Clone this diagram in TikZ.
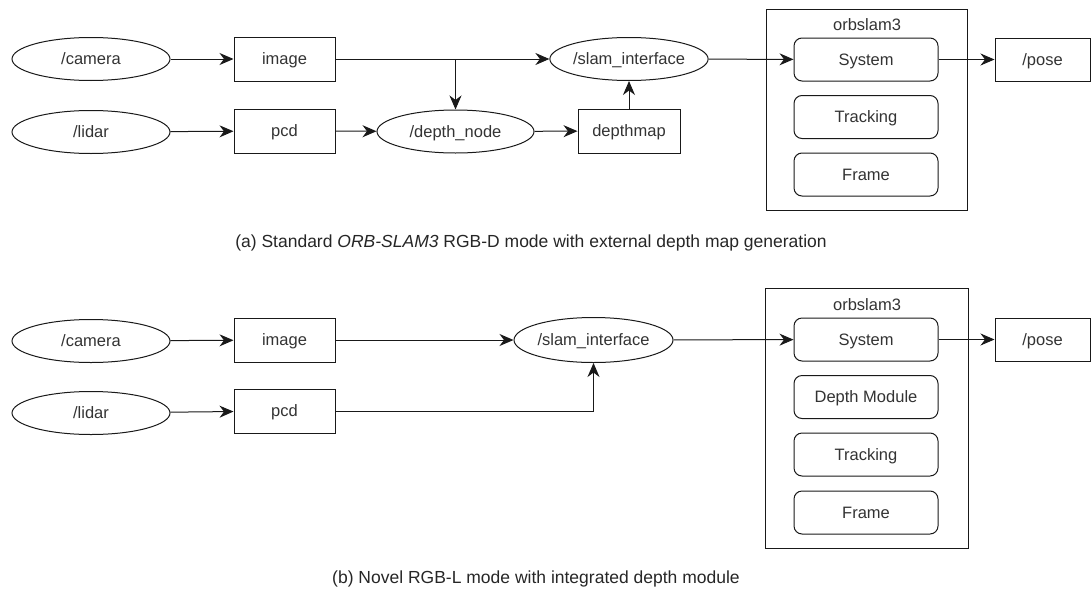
\documentclass[tikz,border=0pt]{standalone}
\usepackage{fontspec}
\setmainfont{Liberation Sans}
\usetikzlibrary{shapes.geometric,arrows.meta}
\begin{document}
\begin{tikzpicture}[x=1pt,y=-1pt,
  every node/.style={font=\fontsize{16.5}{19}\selectfont, text=black!80, text height=14.9pt, text depth=3.5pt},
  topic/.style={draw=black!90, line width=1pt, ellipse, minimum width=158pt, minimum height=43pt, inner sep=0pt},
  msgbox/.style={draw=black!90, line width=1pt, minimum width=101pt, minimum height=44pt, inner sep=0pt},
  module/.style={draw=black!90, line width=1pt, rounded corners=8pt, minimum width=144pt, minimum height=43pt, inner sep=0pt},
  container/.style={draw=black!90, line width=1pt, inner sep=0pt, text height=, text depth=},
  flow/.style={draw=black!90, line width=1pt, -{Stealth[length=14pt,width=12pt,inset=4.5pt]}},
  caption/.style={font=\fontsize{17.5}{21}\selectfont, text=black!85, text height=15.8pt, text depth=3.7pt}]
\useasboundingbox (0,0) rectangle (1091,589);

% ---------- (a) RGB-D pipeline ----------
\node[container, minimum width=201pt, minimum height=201pt] (orbA) at (866.5,109.5) {};
\node (orbAlbl) at (867,25) {orbslam3};
\node[module] (sysA) at (866,59.5) {System};
\node[module] (trkA) at (866,117) {Tracking};
\node[module] (frmA) at (866,174.5) {Frame};

\node[topic] (camA) at (91,59) {/camera};
\node[topic] (lidA) at (91,132) {/lidar};
\node[msgbox] (imgA) at (284.5,59) {image};
\node[msgbox] (pcdA) at (284.5,131) {pcd};
\node[topic] (slamA) at (629,59) {/slam\_interface};
\node[topic, minimum width=157pt] (depA) at (455.5,131.5) {/depth\_node};
\node[msgbox, minimum width=102pt] (dmapA) at (629,131) {depthmap};
\node[msgbox, minimum width=95pt, minimum height=43pt] (poseA) at (1042.5,59.5) {/pose};
\coordinate (brA) at (depA.north |- imgA.east);

\draw[flow] (camA) -- (imgA);
\draw[flow] (imgA) -- (slamA);
\draw[flow] (brA) -- (depA);
\draw[flow] (lidA) -- (pcdA);
\draw[flow] (pcdA) -- (depA);
\draw[flow] (depA) -- (dmapA);
\draw[flow] (dmapA) -- (slamA);
\draw[flow] (slamA) -- (sysA);
\draw[flow] (sysA) -- (poseA);

\node[caption] (capA) at (531,241) {(a) Standard \textit{ORB-SLAM3} RGB-D mode with external depth map generation};

% ---------- (b) RGB-L pipeline ----------
\node[container, minimum width=203pt, minimum height=260pt] (orbB) at (866.5,418) {};
\node (orbBlbl) at (867,305) {orbslam3};
\node[module] (sysB) at (866,339.5) {System};
\node[module] (depB) at (866,397) {Depth Module};
\node[module] (trkB) at (866,454.5) {Tracking};
\node[module] (frmB) at (866,512.5) {Frame};

\node[topic] (camB) at (91,341) {/camera};
\node[topic] (lidB) at (91,413) {/lidar};
\node[msgbox] (imgB) at (284.5,340) {image};
\node[msgbox] (pcdB) at (284.5,411) {pcd};
\node[topic, minimum width=159pt, minimum height=45pt] (slamB) at (593.5,340) {/slam\_interface};
\node[msgbox, minimum width=95pt, minimum height=43pt] (poseB) at (1042.5,339.5) {/pose};

\draw[flow] (camB) -- (imgB);
\draw[flow] (imgB) -- (slamB);
\draw[flow] (lidB) -- (pcdB);
\draw[flow] (pcdB.east) -| (slamB.south);
\draw[flow] (slamB) -- (sysB);
\draw[flow] (sysB) -- (poseB);

\node[caption] (capB) at (536,577) {(b) Novel RGB-L mode with integrated depth module};
\end{tikzpicture}
\end{document}
